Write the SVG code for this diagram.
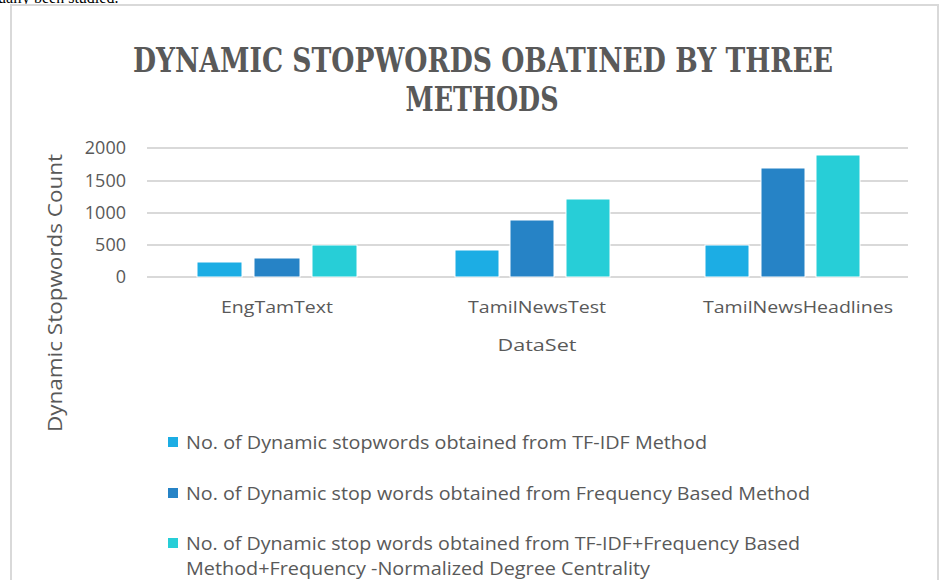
<svg xmlns="http://www.w3.org/2000/svg" width="943" height="580" viewBox="0 0 943 580">
<style>
.grid{stroke:#d9d9d9;stroke-width:2}
.tick{font-family:"Open Sans","Liberation Sans",sans-serif;font-size:18px;fill:#595959;text-anchor:end}
.cat{font-family:"Open Sans","Liberation Sans",sans-serif;font-size:17px;fill:#595959;text-anchor:middle}
.leg{font-family:"Open Sans","Liberation Sans",sans-serif;font-size:18px;fill:#595959}
.title{font-family:"DejaVu Serif","Liberation Serif",serif;font-weight:bold;font-size:34px;fill:#595959;text-anchor:middle}
.s1{fill:#1CADE4}.s2{fill:#2683C6}.s3{fill:#27CED7}
.bar{stroke:#ffffff;stroke-width:1}
</style>
<rect x="0" y="0" width="943" height="580" fill="#ffffff"/>
<text x="-2" y="3" font-family="Liberation Serif,serif" font-size="16" fill="#000">ually been studied.</text>
<rect id="chart-area" x="11" y="5" width="927" height="590" fill="#ffffff" stroke="#d9d9d9" stroke-width="2"/>
<g id="title">
<text class="title" x="483" y="72" textLength="700" lengthAdjust="spacingAndGlyphs">DYNAMIC STOPWORDS OBATINED BY THREE</text>
<text class="title" x="482" y="111" textLength="153" lengthAdjust="spacingAndGlyphs">METHODS</text>
</g>
<g id="gridlines">
<line class="grid" x1="147" y1="148" x2="908" y2="148"/>
<line class="grid" x1="147" y1="181" x2="908" y2="181"/>
<line class="grid" x1="147" y1="213" x2="908" y2="213"/>
<line class="grid" x1="147" y1="245" x2="908" y2="245"/>
<line class="grid" x1="147" y1="277" x2="908" y2="277"/>
</g>
<g id="y-ticks">
<text class="tick" x="126" y="154">2000</text>
<text class="tick" x="126" y="187">1500</text>
<text class="tick" x="126" y="219">1000</text>
<text class="tick" x="126" y="251">500</text>
<text class="tick" x="126" y="283">0</text>
</g>
<g id="bars">
<rect class="bar s1" x="197" y="262" width="45" height="15"/>
<rect class="bar s2" x="254" y="258" width="46" height="19"/>
<rect class="bar s3" x="312" y="245" width="45" height="32"/>
<rect class="bar s1" x="455" y="250" width="44" height="27"/>
<rect class="bar s2" x="510" y="220" width="44" height="57"/>
<rect class="bar s3" x="566" y="199" width="44" height="78"/>
<rect class="bar s1" x="705" y="245" width="44" height="32"/>
<rect class="bar s2" x="761" y="168" width="44" height="109"/>
<rect class="bar s3" x="816" y="155" width="44" height="122"/>
</g>
<g id="x-labels">
<text class="cat" x="277" y="313" textLength="112" lengthAdjust="spacingAndGlyphs">EngTamText</text>
<text class="cat" x="537" y="313" textLength="138" lengthAdjust="spacingAndGlyphs">TamilNewsTest</text>
<text class="cat" x="798" y="313" textLength="190" lengthAdjust="spacingAndGlyphs">TamilNewsHeadlines</text>
<text class="cat" x="537" y="351" font-size="20" textLength="79" lengthAdjust="spacingAndGlyphs">DataSet</text>
</g>
<g id="y-axis-title">
<text x="0" y="0" transform="translate(62,293) rotate(-90)" font-family="Open Sans,Liberation Sans,sans-serif" font-size="20" fill="#595959" text-anchor="middle" textLength="278" lengthAdjust="spacingAndGlyphs">Dynamic Stopwords Count</text>
</g>
<g id="legend">
<g id="legend-1"><rect class="s1" x="168" y="437" width="10" height="10"/><text class="leg" x="186" y="449" textLength="521" lengthAdjust="spacingAndGlyphs">No. of Dynamic stopwords obtained from TF-IDF Method</text></g>
<g id="legend-2"><rect class="s2" x="168" y="488" width="10" height="10"/><text class="leg" x="186" y="500" textLength="624" lengthAdjust="spacingAndGlyphs">No. of Dynamic stop words obtained from Frequency Based Method</text></g>
<g id="legend-3"><rect class="s3" x="168" y="538" width="10" height="10"/><text class="leg" x="186" y="550" textLength="614" lengthAdjust="spacingAndGlyphs">No. of Dynamic stop words obtained from TF-IDF+Frequency Based</text><text class="leg" x="186" y="575" textLength="464" lengthAdjust="spacingAndGlyphs">Method+Frequency -Normalized Degree Centrality</text></g>
</g>
</svg>
